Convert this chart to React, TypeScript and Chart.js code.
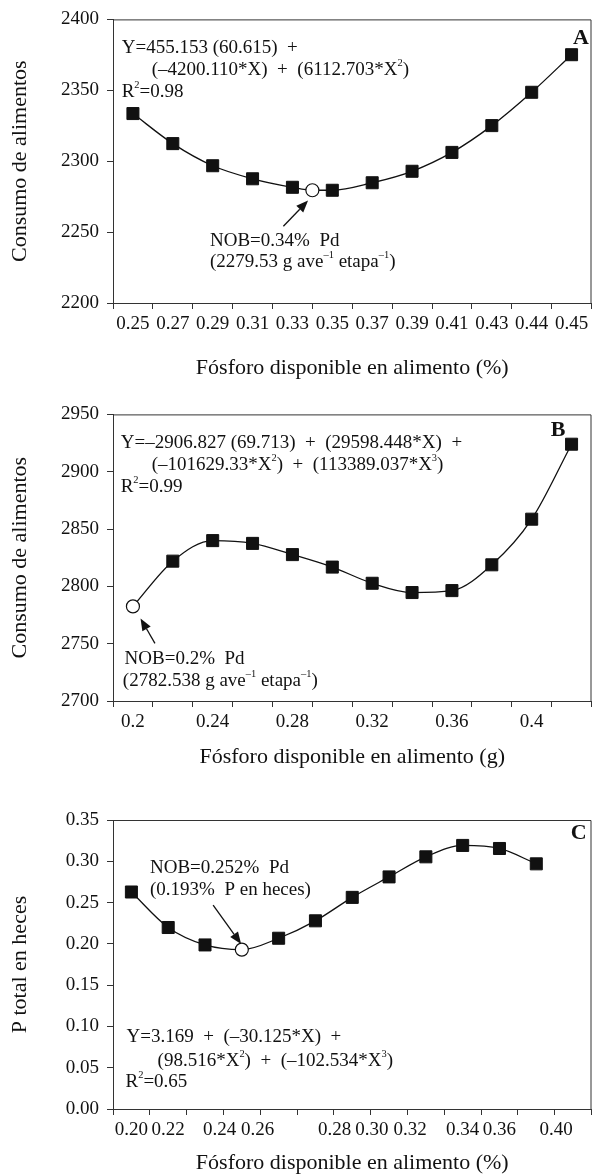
import React, { useEffect, useRef } from "react";
import { Chart, registerables } from "chart.js";

Chart.register(...registerables);

const FONT = "'Liberation Serif', 'Times New Roman', serif";
const INK = "#111111";
const AXIS = "#333333";

// ---------- Panel A ----------
const A_CATEGORIES = [0.25, 0.27, 0.29, 0.31, 0.33, 0.35, 0.37, 0.39, 0.41, 0.43, 0.44, 0.45];
const A_TICK_LABELS = ["0.25", "0.27", "0.29", "0.31", "0.33", "0.35", "0.37", "0.39", "0.41", "0.43", "0.44", "0.45"];
const A_X = [0.25, 0.27, 0.29, 0.31, 0.33, 0.35, 0.37, 0.39, 0.41, 0.43, 0.44, 0.45];
const A_VALUES = [2333.6, 2312.4, 2296.8, 2287.6, 2281.6, 2279.5, 2284.8, 2292.9, 2306.2, 2325.1, 2348.6, 2375.1];
const A_NOB = { x: 0.34, y: 2279.53 };
const A_Y_TICKS = [2200, 2250, 2300, 2350, 2400];

// ---------- Panel B ----------
const B_CATEGORIES = [0.2, 0.22, 0.24, 0.26, 0.28, 0.3, 0.32, 0.34, 0.36, 0.38, 0.4, 0.42];
const B_TICK_VALUES = [0.2, 0.24, 0.28, 0.32, 0.36, 0.4];
const B_TICK_LABELS = ["0.2", "0.24", "0.28", "0.32", "0.36", "0.4"];
const B_X = [0.22, 0.24, 0.26, 0.28, 0.3, 0.32, 0.34, 0.36, 0.38, 0.4, 0.42];
const B_VALUES = [2822, 2839.9, 2837.5, 2827.7, 2816.8, 2802.7, 2794.6, 2796.3, 2818.8, 2858.6, 2924];
const B_NOB = { x: 0.2, y: 2782.538 };
const B_Y_TICKS = [2700, 2750, 2800, 2850, 2900, 2950];

// ---------- Panel C ----------
const C_SLOT_COUNT = 13;
const C_SLOTS = [0, 1, 2, 4, 5, 6, 7, 8, 9, 10, 11];
const C_VALUES = [0.2628, 0.2198, 0.1987, 0.2068, 0.2279, 0.2563, 0.2811, 0.3054, 0.3192, 0.3155, 0.2969];
const C_NOB = { slot: 3, y: 0.193 };
const C_TICK_LABELS = ["0.20", "0.22", "0.24", "0.26", "0.28", "0.30", "0.32", "0.34", "0.36", "0.40"];
const C_TICK_SLOTS = [0, 1, 2.4, 3.43, 5.52, 6.53, 7.57, 9, 10, 11.54];
const C_Y_TICKS = [0, 0.05, 0.1, 0.15, 0.2, 0.25, 0.3, 0.35];

function slotOf(cats: number[], v: number): number {
  for (let i = 0; i < cats.length - 1; i++) {
    if (v >= cats[i] - 1e-9 && v <= cats[i + 1] + 1e-9) {
      return i + (v - cats[i]) / (cats[i + 1] - cats[i]);
    }
  }
  return v <= cats[0] ? 0 : cats.length - 1;
}

type Spec = {
  top: number;
  height: number;
  areaTop: number;
  areaBottom: number;
  xTitlePad: number;
  slots: number;
  squares: { x: number; y: number }[];
  nob: { x: number; y: number };
  tickLabels: { slot: number; text: string }[];
  yTicks: number[];
  yDecimals: number;
  yTitle: string;
  xTitle: string;
  letter: string;
  letterPos: [number, number];
  equation: { text: string; dx: number; dy: number }[];
  nobText: { text: string; dx: number; dy: number }[];
  arrow: { tip: [number, number]; tail: [number, number] };
};

const SPECS: Spec[] = [
  {
    top: 0,
    height: 395,
    areaTop: 14,
    areaBottom: 303,
    xTitlePad: 16,
    slots: A_CATEGORIES.length,
    squares: A_X.map((x, i) => ({ x: slotOf(A_CATEGORIES, x), y: A_VALUES[i] })),
    nob: { x: slotOf(A_CATEGORIES, A_NOB.x), y: A_NOB.y },
    tickLabels: A_TICK_LABELS.map((t, i) => ({ slot: i, text: t })),
    yTicks: A_Y_TICKS,
    yDecimals: 0,
    yTitle: "Consumo de alimentos",
    xTitle: "Fósforo disponible en alimento (%)",
    letter: "A",
    letterPos: [468, 18.5],
    equation: [
      { text: "Y=455.153 (60.615)  +", dx: 8.7, dy: 29 },
      { text: "(–4200.110*X)  +  (6112.703*X^{2})", dx: 38.7, dy: 51 },
      { text: "R^{2}=0.98", dx: 8.7, dy: 73 },
    ],
    nobText: [
      { text: "NOB=0.34%  Pd", dx: 97, dy: 221.7 },
      { text: "(2279.53 g ave^{–1} etapa^{–1})", dx: 97, dy: 243 },
    ],
    arrow: { tip: [-4.3, 10.3], tail: [-29, 36] },
  },
  {
    top: 395,
    height: 395,
    areaTop: 17,
    areaBottom: 306,
    xTitlePad: 22,
    slots: B_CATEGORIES.length,
    squares: B_X.map((x, i) => ({ x: slotOf(B_CATEGORIES, x), y: B_VALUES[i] })),
    nob: { x: slotOf(B_CATEGORIES, B_NOB.x), y: B_NOB.y },
    tickLabels: B_TICK_LABELS.map((t, i) => ({ slot: slotOf(B_CATEGORIES, B_TICK_VALUES[i]), text: t })),
    yTicks: B_Y_TICKS,
    yDecimals: 0,
    yTitle: "Consumo de alimentos",
    xTitle: "Fósforo disponible en alimento (g)",
    letter: "B",
    letterPos: [445, 16.3],
    equation: [
      { text: "Y=–2906.827 (69.713)  +  (29598.448*X)  +", dx: 7.7, dy: 29 },
      { text: "(–101629.33*X^{2})  +  (113389.037*X^{3})", dx: 38.7, dy: 51 },
      { text: "R^{2}=0.99", dx: 7.7, dy: 73 },
    ],
    nobText: [
      { text: "NOB=0.2%  Pd", dx: 11.6, dy: 245 },
      { text: "(2782.538 g ave^{–1} etapa^{–1})", dx: 9.8, dy: 267 },
    ],
    arrow: { tip: [7.6, 12], tail: [22, 37] },
  },
  {
    top: 790,
    height: 384,
    areaTop: 30,
    areaBottom: 319,
    xTitlePad: 0,
    slots: C_SLOT_COUNT,
    squares: C_SLOTS.map((s, i) => ({ x: s, y: C_VALUES[i] })),
    nob: { x: C_NOB.slot, y: C_NOB.y },
    tickLabels: C_TICK_LABELS.map((t, i) => ({ slot: C_TICK_SLOTS[i], text: t })),
    yTicks: C_Y_TICKS,
    yDecimals: 2,
    yTitle: "P total en heces",
    xTitle: "Fósforo disponible en alimento (%)",
    letter: "C",
    letterPos: [465.8, 13.3],
    equation: [
      { text: "Y=3.169  +  (–30.125*X)  +", dx: 13.5, dy: 217 },
      { text: "(98.516*X^{2})  +  (–102.534*X^{3})", dx: 44.6, dy: 241 },
      { text: "R^{2}=0.65", dx: 12.5, dy: 262.5 },
    ],
    nobText: [
      { text: "NOB=0.252%  Pd", dx: 37, dy: 48 },
      { text: "(0.193%  P en heces)", dx: 37, dy: 70 },
    ],
    arrow: { tip: [-0.7, -5.6], tail: [-28.7, -44.6] },
  },
];

function drawRich(ctx: CanvasRenderingContext2D, text: string, x: number, y: number, size: number) {
  const parts = text.split(/(\^\{[^}]*\})/).filter((p) => p.length > 0);
  let cx = x;
  ctx.textAlign = "left";
  ctx.textBaseline = "middle";
  for (const p of parts) {
    const sup = p.startsWith("^{");
    const t = sup ? p.slice(2, -1) : p;
    const fs = sup ? size * 0.55 : size;
    ctx.font = `${fs}px ${FONT}`;
    ctx.fillText(t, cx, sup ? y - size * 0.36 : y);
    cx += ctx.measureText(t).width;
  }
}

function buildConfig(spec: Spec): any {
  const curve = [...spec.squares, spec.nob].sort((a, b) => a.x - b.x);
  type T = { value: number; label: string; mark: boolean };
  const xTicks: T[] = [];
  for (let i = 0; i <= spec.slots; i++) xTicks.push({ value: i - 0.5, label: "", mark: true });
  spec.tickLabels.forEach((t) => xTicks.push({ value: t.slot, label: t.text, mark: false }));
  xTicks.sort((a, b) => a.value - b.value);

  const annot = {
    id: "annot",
    afterDraw(chart: any) {
      const { ctx, chartArea: ca, scales } = chart;
      ctx.save();
      // top and right frame lines
      ctx.strokeStyle = AXIS;
      ctx.lineWidth = 1;
      ctx.beginPath();
      ctx.moveTo(ca.left, ca.top + 0.5);
      ctx.lineTo(ca.right - 0.5, ca.top + 0.5);
      ctx.lineTo(ca.right - 0.5, ca.bottom);
      ctx.stroke();

      ctx.fillStyle = INK;
      spec.equation.forEach((l) => drawRich(ctx, l.text, ca.left + l.dx, ca.top + l.dy, 19));
      spec.nobText.forEach((l) => drawRich(ctx, l.text, ca.left + l.dx, ca.top + l.dy, 19));

      // panel letter
      ctx.font = `bold 22px ${FONT}`;
      ctx.textAlign = "center";
      ctx.textBaseline = "middle";
      ctx.fillText(spec.letter, ca.left + spec.letterPos[0], ca.top + spec.letterPos[1]);

      // arrow
      const px = scales.x.getPixelForValue(spec.nob.x);
      const py = scales.y.getPixelForValue(spec.nob.y);
      const tx = px + spec.arrow.tip[0];
      const ty = py + spec.arrow.tip[1];
      const sx = px + spec.arrow.tail[0];
      const sy = py + spec.arrow.tail[1];
      const ang = Math.atan2(ty - sy, tx - sx);
      const hl = 12;
      const hw = 4.8;
      const bx = tx - hl * Math.cos(ang);
      const by = ty - hl * Math.sin(ang);
      ctx.strokeStyle = INK;
      ctx.lineWidth = 1.3;
      ctx.beginPath();
      ctx.moveTo(sx, sy);
      ctx.lineTo(bx, by);
      ctx.stroke();
      ctx.beginPath();
      ctx.moveTo(tx, ty);
      ctx.lineTo(bx + hw * Math.sin(ang), by - hw * Math.cos(ang));
      ctx.lineTo(bx - hw * Math.sin(ang), by + hw * Math.cos(ang));
      ctx.closePath();
      ctx.fill();
      ctx.restore();
    },
  };

  const yTickObjs = spec.yTicks.map((v) => ({ value: v }));

  return {
    type: "scatter",
    data: {
      datasets: [
        {
          label: "NOB",
          data: [spec.nob],
          showLine: false,
          pointStyle: "circle",
          pointRadius: 6.5,
          pointBackgroundColor: "#ffffff",
          pointBorderColor: INK,
          pointBorderWidth: 1.2,
        },
        {
          label: "obs",
          data: spec.squares,
          showLine: false,
          pointStyle: "rect",
          pointRadius: 8.5,
          pointBackgroundColor: INK,
          pointBorderColor: INK,
          pointBorderWidth: 1,
        },
        {
          label: "fit",
          data: curve,
          showLine: true,
          pointRadius: 0,
          borderColor: INK,
          borderWidth: 1.3,
          cubicInterpolationMode: "monotone",
          fill: false,
        },
      ],
    },
    options: {
      animation: false,
      responsive: false,
      devicePixelRatio: 1,
      layout: { padding: { top: spec.areaTop, right: 1, left: 0, bottom: 0 } },
      plugins: { legend: { display: false }, tooltip: { enabled: false } },
      events: [],
      scales: {
        x: {
          type: "linear",
          min: -0.5,
          max: spec.slots - 0.5,
          afterBuildTicks: (axis: any) => {
            axis.ticks = xTicks.map((t) => ({ value: t.value }));
          },
          afterFit: (s: any) => {
            s.height = spec.height - spec.areaBottom;
          },
          ticks: {
            autoSkip: false,
            maxRotation: 0,
            minRotation: 0,
            padding: 4,
            color: INK,
            font: { family: FONT, size: 19 },
            callback: (_v: any, i: number) => xTicks[i].label,
          },
          grid: {
            display: true,
            drawOnChartArea: false,
            drawTicks: true,
            tickLength: 6,
            tickWidth: 1,
            tickColor: (ctx: any) => (xTicks[ctx.index] && xTicks[ctx.index].mark ? AXIS : "rgba(0,0,0,0)"),
          },
          border: { display: true, color: AXIS, width: 1 },
          title: {
            display: true,
            text: spec.xTitle,
            color: INK,
            font: { family: FONT, size: 22, lineHeight: 1 },
            padding: { top: 0, bottom: spec.xTitlePad },
          },
        },
        y: {
          type: "linear",
          min: spec.yTicks[0],
          max: spec.yTicks[spec.yTicks.length - 1],
          afterBuildTicks: (axis: any) => {
            axis.ticks = yTickObjs.map((t) => ({ value: t.value }));
          },
          afterFit: (s: any) => {
            s.width = 113;
          },
          ticks: {
            padding: 8,
            color: INK,
            font: { family: FONT, size: 19 },
            callback: (v: any) => Number(v).toFixed(spec.yDecimals),
          },
          grid: {
            display: true,
            drawOnChartArea: false,
            drawTicks: true,
            tickLength: 6,
            tickWidth: 1,
            tickColor: AXIS,
          },
          border: { display: true, color: AXIS, width: 1 },
          title: {
            display: true,
            text: spec.yTitle,
            color: INK,
            font: { family: FONT, size: 22, lineHeight: 1 },
            padding: { top: 9, bottom: 0 },
          },
        },
      },
    },
    plugins: [annot],
  };
}

function Panel({ spec }: { spec: Spec }) {
  const ref = useRef<HTMLCanvasElement | null>(null);
  useEffect(() => {
    if (!ref.current) return;
    const chart = new Chart(ref.current, buildConfig(spec));
    return () => chart.destroy();
  }, [spec]);
  return (
    <canvas
      ref={ref}
      width={601}
      height={spec.height}
      style={{ position: "absolute", left: 0, top: spec.top, width: 601, height: spec.height, display: "block" }}
    />
  );
}

export default function App() {
  return (
    <div style={{ position: "absolute", left: 0, top: 0, width: 601, height: 1174, background: "#ffffff", overflow: "hidden" }}>
      {SPECS.map((s, i) => (
        <Panel key={i} spec={s} />
      ))}
    </div>
  );
}
